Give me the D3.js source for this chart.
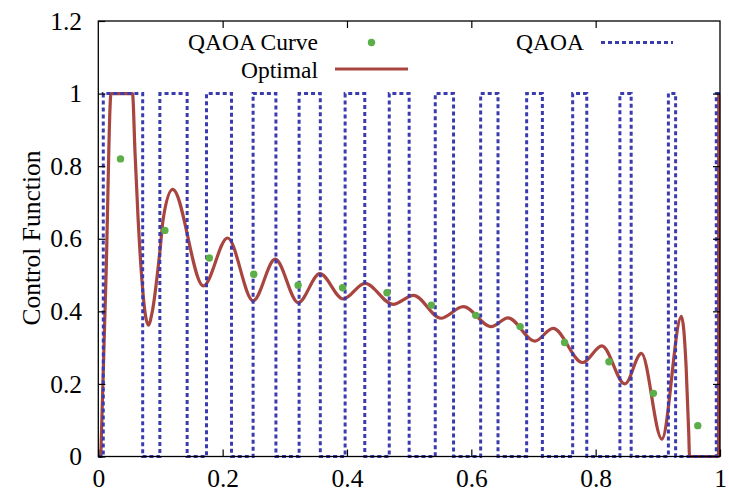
<!DOCTYPE html>
<html>
<head>
<meta charset="utf-8">
<script src="https://cdn.jsdelivr.net/npm/d3@7"></script>
<style>
  html, body { margin: 0; padding: 0; background: #fff; }
  svg { display: block; }
  text { font-family: "Liberation Serif", "Times New Roman", serif; fill: #000; }
</style>
</head>
<body>
<svg id="chart" width="729" height="493"></svg>
<script>
// ---- data ----
const xTicks = [0, 0.2, 0.4, 0.6, 0.8, 1];
const yTicks = [0, 0.2, 0.4, 0.6, 0.8, 1, 1.2];
const xTickLabels = ["0", "0.2", "0.4", "0.6", "0.8", "1"];
const yTickLabels = ["0", "0.2", "0.4", "0.6", "0.8", "1", "1.2"];
const yTitle = "Control Function";
const seriesNames = ["QAOA Curve", "Optimal", "QAOA"];

// QAOA Curve points
const curveT = [0.0357, 0.1071, 0.1786, 0.2500, 0.3214, 0.3929, 0.4643, 0.5357, 0.6071, 0.6786, 0.7500, 0.8214, 0.8929, 0.9643];
const curveV = [0.820, 0.623, 0.547, 0.502, 0.472, 0.465, 0.451, 0.417, 0.389, 0.358, 0.314, 0.261, 0.174, 0.085];

// QAOA bang-bang pulse: switching times, starting at value 0
const qaoaSwitchT = [0.008, 0.0714, 0.099, 0.1429, 0.174, 0.2143, 0.249, 0.2857, 0.323, 0.3571,
                     0.397, 0.4286, 0.468, 0.5000, 0.542, 0.5714, 0.615, 0.6429, 0.689, 0.7143,
                     0.763, 0.7857, 0.839, 0.8571, 0.917, 0.9286, 0.994];
const qaoaStart = 0;

// Optimal control curve (knots)
const optT = [0.004, 0.0125, 0.0205, 0.055, 0.059, 0.064, 0.0708, 0.075, 0.0805, 0.0868, 0.099, 0.1045, 0.1196,
              0.169, 0.208, 0.249, 0.2846, 0.3216, 0.3564, 0.394, 0.429, 0.474, 0.507, 0.551, 0.587,
              0.632, 0.659, 0.702, 0.7315, 0.779, 0.810, 0.847, 0.8736, 0.9065, 0.938, 0.9455, 0.9497,
              0.951, 0.9975, 0.998, 1.0];
const optV = [0, 0.5, 1, 1, 0.84, 0.656, 0.472, 0.399, 0.362, 0.399, 0.564, 0.656, 0.736,
              0.470, 0.602, 0.429, 0.544, 0.424, 0.504, 0.434, 0.477, 0.419, 0.444, 0.381, 0.413,
              0.358, 0.382, 0.318, 0.353, 0.259, 0.305, 0.200, 0.284, 0.048, 0.386, 0.247, 0.065,
              0, 0, 1, 1];

// ---- layout ----
const svg = d3.select("#chart");
const L = 98.3, R = 720, T = 21, B = 456.5;
const x = d3.scaleLinear().domain([0, 1]).range([L, R]);
const y = d3.scaleLinear().domain([0, 1.2]).range([B, T]);

const colBlue = "#3b3bb0", colRed = "#a8453f", colGreen = "#5cae48";
const fontSize = 25.5;
const legendFont = 23.5;

// Optimal curve
const optData = optT.map((t, i) => [t, optV[i]]);
const optLine = d3.line().x(d => x(d[0])).y(d => y(d[1])).curve(d3.curveMonotoneX);
svg.append("path").attr("d", optLine(optData))
  .attr("fill", "none").attr("stroke", colRed).attr("stroke-width", 3.2).attr("stroke-linejoin", "round");

// QAOA pulse
const pulse = [];
let v = qaoaStart;
pulse.push([0, v]);
qaoaSwitchT.forEach(t => { pulse.push([t, v]); v = 1 - v; pulse.push([t, v]); });
pulse.push([1, v]);
const pulseLine = d3.line().x(d => x(d[0])).y(d => y(d[1]));
svg.append("path").attr("d", pulseLine(pulse))
  .attr("fill", "none").attr("stroke", colBlue).attr("stroke-width", 3)
  .attr("stroke-dasharray", "4,3");

// QAOA curve points
svg.selectAll("circle.pt").data(curveT.map((t, i) => [t, curveV[i]])).enter()
  .append("circle").attr("class", "pt")
  .attr("cx", d => x(d[0])).attr("cy", d => y(d[1])).attr("r", 3.7).attr("fill", colGreen);

// Frame
svg.append("rect").attr("x", L).attr("y", T).attr("width", R - L).attr("height", B - T)
  .attr("fill", "none").attr("stroke", "#000").attr("stroke-width", 1.3);

// Axes (ticks inward, mirrored)
const tl = 7;
const axB = svg.append("g").attr("transform", `translate(0,${B})`)
  .call(d3.axisBottom(x).tickValues(xTicks).tickSize(-tl).tickPadding(tl + 12).tickFormat((d, i) => xTickLabels[i]));
const axT = svg.append("g").attr("transform", `translate(0,${T})`)
  .call(d3.axisTop(x).tickValues(xTicks.slice(1, -1)).tickSize(-tl).tickFormat(""));
const axL = svg.append("g").attr("transform", `translate(${L},0)`)
  .call(d3.axisLeft(y).tickValues(yTicks).tickSize(-tl).tickPadding(tl + 16).tickFormat((d, i) => yTickLabels[i]));
const axRt = svg.append("g").attr("transform", `translate(${R},0)`)
  .call(d3.axisRight(y).tickValues(yTicks.slice(1, -1)).tickSize(-tl).tickFormat(""));
[axB, axT, axL, axRt].forEach(g => {
  g.select(".domain").remove();
  g.selectAll(".tick line").attr("stroke", "#000").attr("stroke-width", 1.2);
  g.selectAll("text").attr("font-size", fontSize).style("font-family", '"Liberation Serif", serif').attr("fill", "#000");
});
axB.selectAll("text").attr("dy", "0.71em").attr("y", 12);
axL.selectAll("text").attr("x", -(L - 82));

// Y title
svg.append("text").attr("transform", `translate(31,238) rotate(-90)`)
  .attr("text-anchor", "middle").attr("dominant-baseline", "central")
  .attr("font-size", fontSize).text(yTitle);

// Legend
const lg = svg.append("g");
lg.append("text").attr("x", 318).attr("y", 42).attr("text-anchor", "end").attr("dominant-baseline", "central")
  .attr("font-size", legendFont).text(seriesNames[0]);
lg.append("circle").attr("cx", 371.5).attr("cy", 42.5).attr("r", 3.7).attr("fill", colGreen);
lg.append("text").attr("x", 318).attr("y", 69.5).attr("text-anchor", "end").attr("dominant-baseline", "central")
  .attr("font-size", legendFont).text(seriesNames[1]);
lg.append("line").attr("x1", 335).attr("x2", 408).attr("y1", 69).attr("y2", 69)
  .attr("stroke", colRed).attr("stroke-width", 3.2);
lg.append("text").attr("x", 584).attr("y", 42).attr("text-anchor", "end").attr("dominant-baseline", "central")
  .attr("font-size", legendFont).text(seriesNames[2]);
lg.append("line").attr("x1", 601).attr("x2", 673).attr("y1", 42.5).attr("y2", 42.5)
  .attr("stroke", colBlue).attr("stroke-width", 3).attr("stroke-dasharray", "4,3");
</script>
</body>
</html>
